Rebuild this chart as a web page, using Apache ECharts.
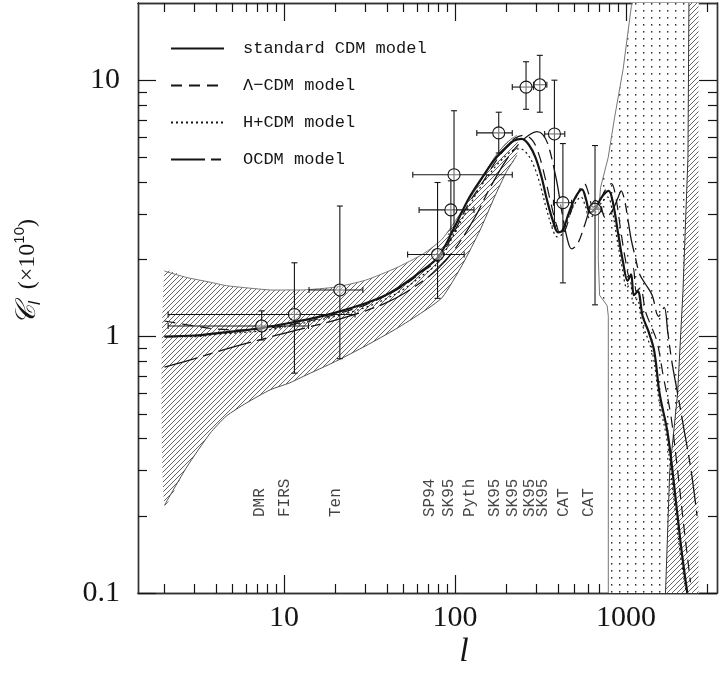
<!DOCTYPE html>
<html>
<head>
<meta charset="utf-8">
<script src="https://cdn.jsdelivr.net/npm/echarts@6.0.0/dist/echarts.min.js"></script>
<style>
html, body { margin: 0; background: #fff; }
#chart { width: 721px; height: 677px; }
</style>
</head>
<body>
<div id="chart"></div>
<script>
// axis ticks
const majorX = [10, 100, 1000];
const minorX = [2, 3, 4, 5, 6, 7, 8, 9, 20, 30, 40, 50, 60, 70, 80, 90, 200, 300, 400, 500, 600, 700, 800, 900, 2000, 3000];
const majorY = [0.1, 1, 10];
const minorY = [0.2, 0.3, 0.4, 0.5, 0.6, 0.7, 0.8, 0.9, 2, 3, 4, 5, 6, 7, 8, 9];

// model curves
const sL = [2, 3, 4, 6, 8, 10, 14, 20, 30, 40, 50, 65, 80, 100, 120, 145, 172, 200, 220, 245, 270, 295, 320, 345, 375, 400, 425, 460, 500, 552, 585, 614, 660, 720, 790, 840, 900, 960, 1020, 1070, 1110, 1170, 1250, 1350, 1460, 1570, 1750, 1900, 2100, 2280];
const sV = [1.0, 1.01, 1.03, 1.06, 1.09, 1.12, 1.17, 1.24, 1.35, 1.46, 1.6, 1.82, 2.05, 2.7, 3.45, 4.2, 4.95, 5.5, 5.8, 5.9, 5.6, 5.0, 4.2, 3.4, 2.8, 2.55, 2.6, 3.0, 3.45, 3.75, 3.4, 3.05, 3.15, 3.5, 3.7, 3.3, 2.5, 1.95, 1.65, 1.75, 1.45, 1.5, 1.2, 1.05, 0.88, 0.6, 0.42, 0.27, 0.15, 0.1];

const lL = [2, 3, 4, 6, 8, 10, 14, 20, 30, 40, 50, 65, 80, 100, 120, 145, 172, 200, 225, 255, 285, 310, 335, 360, 390, 415, 440, 475, 520, 570, 605, 640, 690, 750, 820, 870, 930, 990, 1050, 1100, 1150, 1210, 1300, 1400, 1520, 1650, 1820, 1980, 2180, 2380];
const lV = [1.15, 1.1, 1.07, 1.06, 1.08, 1.1, 1.15, 1.22, 1.33, 1.45, 1.58, 1.8, 2.0, 2.6, 3.3, 4.0, 4.8, 5.5, 5.95, 6.1, 5.8, 5.1, 4.2, 3.4, 2.75, 2.5, 2.6, 3.05, 3.6, 3.95, 3.6, 3.2, 3.3, 3.7, 3.95, 3.5, 2.6, 2.0, 1.7, 1.85, 1.5, 1.55, 1.25, 1.1, 0.95, 0.7, 0.5, 0.32, 0.18, 0.11];

const hL = [2, 3, 4, 6, 8, 10, 14, 20, 30, 40, 50, 65, 80, 100, 120, 145, 172, 200, 220, 240, 265, 290, 315, 340, 370, 395, 420, 455, 495, 545, 580, 610, 650, 710, 780, 830, 890, 950, 1010, 1060, 1100, 1160, 1240, 1340, 1450, 1560, 1730, 1880, 2080, 2250];
const hV = [1.0, 1.0, 1.02, 1.04, 1.06, 1.09, 1.14, 1.2, 1.3, 1.41, 1.53, 1.74, 1.95, 2.55, 3.2, 3.95, 4.6, 5.1, 5.35, 5.4, 5.15, 4.6, 3.9, 3.2, 2.65, 2.45, 2.5, 2.85, 3.25, 3.5, 3.2, 2.9, 3.0, 3.3, 3.5, 3.1, 2.35, 1.85, 1.55, 1.62, 1.35, 1.4, 1.12, 0.98, 0.82, 0.56, 0.4, 0.25, 0.14, 0.1];

const oL = [2, 3, 4, 6, 8, 10, 14, 20, 30, 40, 50, 65, 80, 100, 130, 160, 200, 240, 275, 300, 325, 350, 391, 420, 450, 480, 520, 570, 620, 660, 700, 760, 830, 900, 935, 980, 1030, 1070, 1130, 1200, 1300, 1420, 1550, 1670, 1750, 1850, 2000, 2200, 2400, 2600];
const oV = [0.76, 0.82, 0.87, 0.94, 0.99, 1.03, 1.09, 1.16, 1.26, 1.36, 1.47, 1.65, 1.85, 2.2, 2.9, 3.8, 4.9, 5.7, 6.15, 6.3, 6.15, 5.6, 4.1, 3.1, 2.45, 2.2, 2.3, 2.7, 3.2, 3.4, 3.3, 2.9, 3.1, 3.5, 3.7, 3.4, 2.8, 2.4, 2.05, 1.75, 1.6, 1.45, 1.2, 1.3, 1.05, 0.8, 0.6, 0.42, 0.3, 0.2];

// cosmic variance band
const bandL = [2, 2.7, 3.7, 4.6, 6, 8.3, 10.8, 13, 20, 30, 45, 65, 84, 110, 140, 170, 200, 230];
const bandHi = [1.80, 1.70, 1.63, 1.58, 1.55, 1.52, 1.52, 1.52, 1.56, 1.66, 1.85, 2.1, 2.4, 3.1, 4.0, 5.0, 5.7, 6.1];
const bandLo = [0.22, 0.31, 0.42, 0.49, 0.55, 0.62, 0.66, 0.70, 0.80, 0.92, 1.07, 1.25, 1.42, 1.9, 2.6, 3.5, 4.4, 5.1];

// excluded regions at high l
const dotL = [787, 787, 775, 700, 688, 690, 709, 786, 857, 960, 1073, 1090];
const dotV = [0.1, 1.2, 1.32, 1.45, 2.0, 3.0, 3.81, 5.0, 7.17, 11, 19.4, 20];
const dotEdgeL = 2650;
const hatL = [1700, 1800, 2000, 2150, 2300, 2330];
const hatV = [0.1, 0.3, 0.6, 1.5, 5, 20];
const hatEdgeL = 2650;

// data points with errors
const ptL = [7.4, 11.5, 21.2, 79, 94.5, 98.6, 180, 260, 313, 381, 427, 658];
const ptV = [1.1, 1.22, 1.52, 2.09, 3.12, 4.28, 6.23, 9.4, 9.6, 6.17, 3.33, 3.14];
const ptLo = [0.97, 0.72, 0.82, 1.41, 2.51, 2.58, 5.2, 7.7, 7.5, 2.7, 1.62, 1.33];
const ptHi = [1.26, 1.94, 3.23, 3.99, 4.05, 7.6, 7.5, 11.8, 12.5, 10.0, 5.66, 5.56];
const ptLLo = [2.1, 2.1, 14, 52.8, 61.6, 56.6, 134, 216, 288, 334, 376, 610];
const ptLHi = [13.9, 26, 28.9, 113, 129, 216, 216, 288, 344, 438, 480, 720];

// experiment names
const labNames = ['DMR', 'FIRS', 'Ten', 'SP94', 'SK95', 'Pyth', 'SK95', 'SK95', 'SK95', 'SK95', 'CAT', 'CAT'];
const labL = [7.25, 10.1, 20.2, 72, 92.3, 123, 172, 220, 274, 329, 436, 611];
const labV = 0.197;

function pattern(kind) {
  const c = document.createElement('canvas');
  const g = c.getContext('2d');
  if (kind === 'hatch') {
    c.width = 5; c.height = 5;
    g.strokeStyle = '#555';
    g.lineWidth = 0.9;
    g.beginPath();
    g.moveTo(0, 5); g.lineTo(5, 0);
    g.moveTo(-1, 1); g.lineTo(1, -1);
    g.moveTo(4, 6); g.lineTo(6, 4);
    g.stroke();
  } else {
    c.width = 8; c.height = 7;
    g.fillStyle = '#333';
    g.fillRect(3, 3, 1.4, 1.6);
  }
  return {image: c, repeat: 'repeat'};
}
const hatchFill = pattern('hatch');
const dotFill = pattern('dot');

const ink = '#151515';
const tickStyle = {color: ink, width: 1.2};

function xAx(pos, ticks, len, labels) {
  return {
    type: 'log', min: 1.4, max: 3400, position: pos,
    axisLine: {show: true, onZero: false, lineStyle: {color: '#333', width: 1.4}},
    axisTick: {show: true, inside: true, length: len, customValues: ticks, lineStyle: tickStyle},
    axisLabel: {show: labels, customValues: majorX, margin: 10, formatter: v => String(v),
      fontFamily: 'Liberation Serif', fontSize: 30, color: ink},
    splitLine: {show: false}
  };
}
function yAx(pos, ticks, len, labels) {
  return {
    type: 'log', min: 0.1, max: 20, position: pos,
    axisLine: {show: true, onZero: false, lineStyle: {color: '#333', width: 1.4}},
    axisTick: {show: true, inside: true, length: len, customValues: ticks, lineStyle: tickStyle},
    axisLabel: {show: labels, customValues: majorY, margin: 18, formatter: v => String(v),
      fontFamily: 'Liberation Serif', fontSize: 30, color: ink},
    splitLine: {show: false}
  };
}

function zip(a, b) { return a.map((v, i) => [v, b[i]]); }

function regionSeries(name, edgeL, edgeV, farL, fill, stroke) {
  return {
    type: 'custom', name: name, clip: true, silent: true, z: 1,
    data: [[edgeL[0], edgeV[0]]],
    renderItem: function (params, api) {
      const pts = edgeL.map((l, i) => api.coord([l, edgeV[i]]));
      pts.push(api.coord([farL, edgeV[edgeV.length - 1]]));
      pts.push(api.coord([farL, edgeV[0]]));
      return {type: 'group', children: [
        {type: 'polygon', shape: {points: pts}, style: {fill: '#fff'}},
        {type: 'polygon', shape: {points: pts}, style: {fill: fill}},
        {type: 'polyline', shape: {points: pts.slice(0, edgeL.length)}, style: {stroke: stroke, lineWidth: 1, fill: null}}
      ]};
    }
  };
}

const chart = echarts.init(document.getElementById('chart'));
chart.setOption({
  animation: false,
  backgroundColor: '#fff',
  grid: {left: 138, right: 4, top: 3, bottom: 84},
  xAxis: [xAx('bottom', majorX, 18, true), xAx('bottom', minorX, 9, false), xAx('top', majorX, 18, false), xAx('top', minorX, 9, false)],
  yAxis: [yAx('left', majorY, 18, true), yAx('left', minorY, 9, false), yAx('right', majorY, 18, false), yAx('right', minorY, 9, false)],
  legend: {
    orient: 'vertical', left: 165, top: 35, itemWidth: 53, itemHeight: 14, itemGap: 20,
    data: ['standard CDM model', 'Λ−CDM model', 'H+CDM model', 'OCDM model'],
    itemStyle: {opacity: 0},
    textStyle: {fontFamily: 'Liberation Mono', fontSize: 17, color: ink, padding: [0, 0, 0, 14]}
  },
  graphic: [
    {type: 'text', x: 28, y: 272, rotation: Math.PI / 2,
      style: {text: '{c|𝒞}{s|l}  (×10{p|10})', align: 'center', verticalAlign: 'middle',
        fontFamily: 'Liberation Serif', fontSize: 24, fill: ink,
        rich: {c: {fontFamily: 'DejaVu Serif', fontSize: 28, fontStyle: 'italic'},
               s: {fontSize: 17, fontStyle: 'italic', verticalAlign: 'bottom', padding: [14, 0, 0, 0]},
               p: {fontSize: 15, verticalAlign: 'top', padding: [0, 0, 12, 0]}}}},
    {type: 'text', x: 464, y: 652,
      style: {text: 'l', align: 'center', verticalAlign: 'middle', fontFamily: 'Liberation Serif',
        fontSize: 34, fontStyle: 'italic', fill: ink}}
  ],
  series: [
    {
      type: 'custom', name: 'band', clip: true, silent: true, z: 1,
      data: [[bandL[0], bandHi[0]]],
      renderItem: function (params, api) {
        const up = bandL.map((l, i) => api.coord([l, bandHi[i]]));
        const lo = bandL.map((l, i) => api.coord([l, bandLo[i]]));
        return {type: 'group', children: [
          {type: 'polygon', shape: {points: up.concat(lo.slice().reverse()), smooth: 0.2}, style: {fill: hatchFill}},
          {type: 'polyline', shape: {points: up, smooth: 0.2}, style: {stroke: '#777', lineWidth: 1, fill: null}},
          {type: 'polyline', shape: {points: lo, smooth: 0.2}, style: {stroke: '#555', lineWidth: 1, fill: null}}
        ]};
      }
    },
    regionSeries('dots', dotL, dotV, dotEdgeL, dotFill, '#777'),
    regionSeries('hatch', hatL, hatV, hatEdgeL, hatchFill, '#333'),
    {type: 'line', name: 'standard CDM model', data: zip(sL, sV), symbol: 'none', smooth: 0.35, z: 3,
      lineStyle: {color: ink, width: 2.2, type: 'solid'}, itemStyle: {color: ink}},
    {type: 'line', name: 'Λ−CDM model', data: zip(lL, lV), symbol: 'none', smooth: 0.35, z: 3,
      lineStyle: {color: ink, width: 1.2, type: [11, 7]}, itemStyle: {color: ink}},
    {type: 'line', name: 'H+CDM model', data: zip(hL, hV), symbol: 'none', smooth: 0.35, z: 3,
      lineStyle: {color: ink, width: 1.2, type: [2, 3]}, itemStyle: {color: ink}},
    {type: 'line', name: 'OCDM model', data: zip(oL, oV), symbol: 'none', smooth: 0.35, z: 3,
      lineStyle: {color: ink, width: 1.3, type: [34, 6, 10, 6]}, itemStyle: {color: ink}},
    {
      type: 'custom', name: 'points', clip: true, silent: true, z: 4,
      data: zip(ptL, ptV),
      renderItem: function (params, api) {
        const i = params.dataIndex;
        const c = api.coord([ptL[i], ptV[i]]);
        const t = api.coord([ptL[i], ptHi[i]])[1];
        const b = api.coord([ptL[i], ptLo[i]])[1];
        const l = api.coord([ptLLo[i], ptV[i]])[0];
        const r = api.coord([ptLHi[i], ptV[i]])[0];
        const st = {stroke: ink, lineWidth: 1.1};
        const k = 3;
        return {type: 'group', children: [
          {type: 'line', shape: {x1: c[0], y1: t, x2: c[0], y2: b}, style: st},
          {type: 'line', shape: {x1: l, y1: c[1], x2: r, y2: c[1]}, style: st},
          {type: 'line', shape: {x1: c[0] - k, y1: t, x2: c[0] + k, y2: t}, style: st},
          {type: 'line', shape: {x1: c[0] - k, y1: b, x2: c[0] + k, y2: b}, style: st},
          {type: 'line', shape: {x1: l, y1: c[1] - k, x2: l, y2: c[1] + k}, style: st},
          {type: 'line', shape: {x1: r, y1: c[1] - k, x2: r, y2: c[1] + k}, style: st},
          {type: 'circle', shape: {cx: c[0], cy: c[1], r: 6}, style: {fill: 'rgba(255,255,255,0.4)', stroke: ink, lineWidth: 1.1}}
        ]};
      }
    },
    {
      type: 'scatter', name: 'labels', silent: true, z: 5,
      data: labL.map((l, i) => ({value: [l, labV], name: labNames[i]})),
      symbolSize: 1, itemStyle: {color: 'rgba(0,0,0,0)'},
      label: {show: true, formatter: '{b}', rotate: 90, position: [0, 0], align: 'left', verticalAlign: 'middle',
        fontFamily: 'Liberation Mono', fontSize: 16, color: ink}
    }
  ]
});
</script>
</body>
</html>
